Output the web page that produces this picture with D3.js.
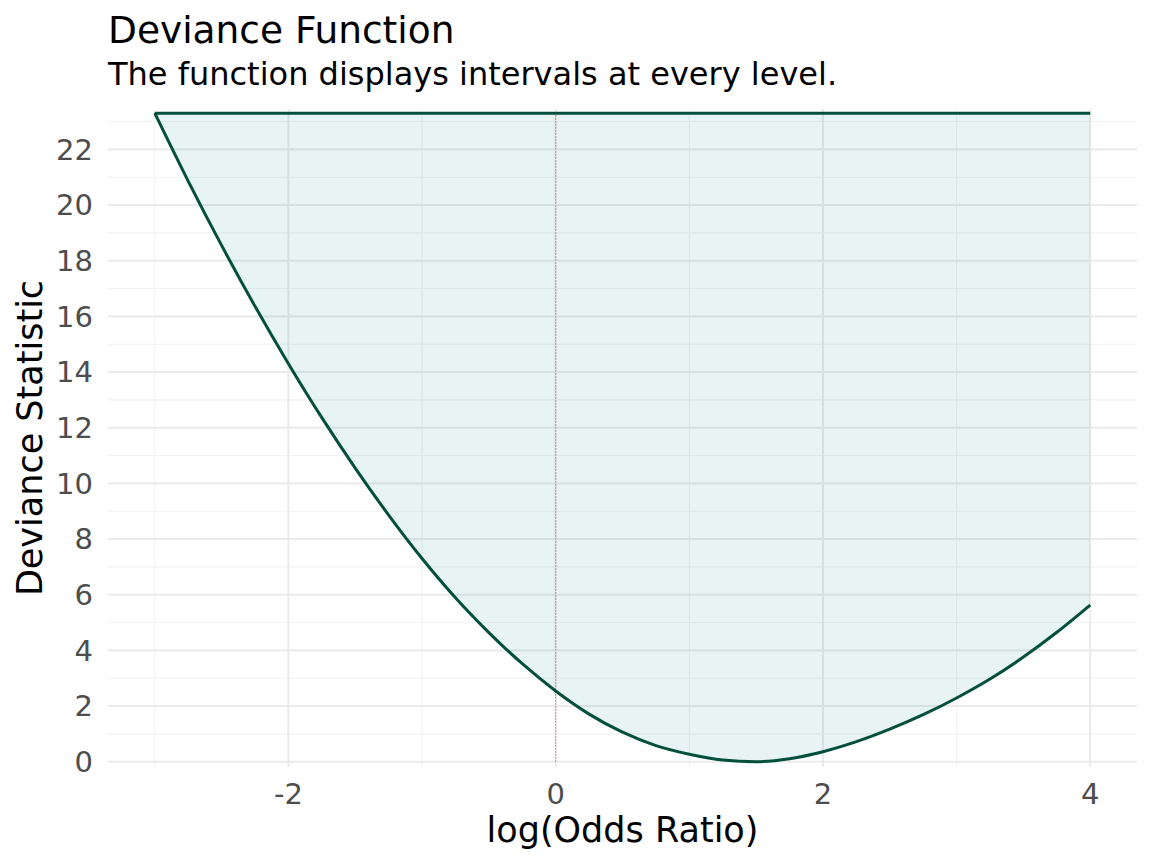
<!DOCTYPE html>
<html lang="en">
<head>
<meta charset="UTF-8">
<title>Deviance Function</title>
<script src="https://d3js.org/d3.v7.min.js"></script>
<style>
  body { margin: 0; background: #fff; }
  text { font-family: "DejaVu Sans", sans-serif; }
</style>
</head>
<body>
<script>
  // log odds ratio grid and the deviance
  const logOR = [-3, -2.75, -2.5, -2.25, -2, -1.75, -1.5, -1.25, -1, -0.75, -0.5, -0.25,
                 0, 0.25, 0.5, 0.75, 1, 1.25, 1.5, 1.75, 2, 2.25, 2.5, 2.75, 3, 3.25, 3.5, 3.75, 4]
  const deviance = [23.3, 20.86, 18.55, 16.36, 14.3, 12.36, 10.55, 8.86, 7.3, 5.89, 4.64, 3.52,
                    2.54, 1.71, 1.06, 0.58, 0.27, 0.06, 0.0, 0.11, 0.36, 0.72, 1.17, 1.69, 2.29, 2.97, 3.76, 4.65, 5.63]
  const xTicks = [-2, 0, 2, 4]
  const xMinor = [-3, -1, 1, 3]
  const yTicks = [0, 2, 4, 6, 8, 10, 12, 14, 16, 18, 20, 22]
  const yMinor = [1, 3, 5, 7, 9, 11, 13, 15, 17, 19, 21, 23]
  const nullValue = 0

  const W = 1152, H = 864
  const panel = {left: 108, right: 1137, top: 109, bottom: 767}

  const data = logOR.map((x, i) => ({x: x, y: deviance[i]}))
  const yMax = d3.max(deviance)

  const x = d3.scaleLinear().domain([-3.35, 4.35]).range([panel.left, panel.right])
  const y = d3.scaleLinear().domain([-0.19, 23.45]).range([panel.bottom, panel.top])

  const svg = d3.select("body").append("svg")
    .attr("width", W).attr("height", H)

  // grid
  const grid = svg.append("g")
  grid.selectAll(".ymin").data(yMinor).enter().append("line")
    .attr("x1", panel.left).attr("x2", panel.right)
    .attr("y1", d => y(d)).attr("y2", d => y(d))
    .attr("stroke", "#f2f2f2").attr("stroke-width", 1.1)
  grid.selectAll(".xmin").data(xMinor).enter().append("line")
    .attr("y1", panel.top).attr("y2", panel.bottom)
    .attr("x1", d => x(d)).attr("x2", d => x(d))
    .attr("stroke", "#f2f2f2").attr("stroke-width", 1.1)
  grid.selectAll(".ymaj").data(yTicks).enter().append("line")
    .attr("x1", panel.left).attr("x2", panel.right)
    .attr("y1", d => y(d)).attr("y2", d => y(d))
    .attr("stroke", "#ebebeb").attr("stroke-width", 2.1)
  grid.selectAll(".xmaj").data(xTicks).enter().append("line")
    .attr("y1", panel.top).attr("y2", panel.bottom)
    .attr("x1", d => x(d)).attr("x2", d => x(d))
    .attr("stroke", "#ebebeb").attr("stroke-width", 2.1)

  // shaded region between curve and max
  const area = d3.area().x(d => x(d.x)).y0(y(yMax)).y1(d => y(d.y)).curve(d3.curveMonotoneX)
  svg.append("path").datum(data)
    .attr("d", area)
    .attr("fill", "#008080").attr("fill-opacity", 0.09)

  // null reference line
  svg.append("line")
    .attr("x1", x(nullValue)).attr("x2", x(nullValue))
    .attr("y1", y(0)).attr("y2", y(yMax))
    .attr("stroke", "#e07070").attr("stroke-width", 1)
    .attr("stroke-dasharray", "1.5,1.5")

  const line = d3.line().x(d => x(d.x)).y(d => y(d.y)).curve(d3.curveMonotoneX)
  svg.append("path").datum(data)
    .attr("d", line)
    .attr("fill", "none").attr("stroke", "#024f3b").attr("stroke-width", 3)
  svg.append("line")
    .attr("x1", x(logOR[0])).attr("x2", x(logOR[logOR.length - 1]))
    .attr("y1", y(yMax)).attr("y2", y(yMax))
    .attr("stroke", "#024f3b").attr("stroke-width", 3)

  // axes text
  svg.selectAll(".xt").data(xTicks).enter().append("text")
    .attr("x", d => x(d)).attr("y", 804)
    .attr("text-anchor", "middle").attr("font-size", 29).attr("fill", "#4d4d4d")
    .text(d => d)
  svg.selectAll(".yt").data(yTicks).enter().append("text")
    .attr("x", 93).attr("y", d => y(d)).attr("dy", "0.36em")
    .attr("text-anchor", "end").attr("font-size", 29).attr("fill", "#4d4d4d")
    .text(d => d)

  svg.append("text")
    .attr("x", (panel.left + panel.right) / 2).attr("y", 842)
    .attr("text-anchor", "middle").attr("font-size", 35).attr("fill", "#000")
    .text("log(Odds Ratio)")
  svg.append("text")
    .attr("transform", "translate(42," + (panel.top + panel.bottom) / 2 + ") rotate(-90)")
    .attr("text-anchor", "middle").attr("font-size", 35).attr("fill", "#000")
    .text("Deviance Statistic")

  svg.append("text")
    .attr("x", 108).attr("y", 43).attr("font-size", 37.5).attr("fill", "#000")
    .text("Deviance Function")
  svg.append("text")
    .attr("x", 108).attr("y", 85).attr("font-size", 32).attr("fill", "#000")
    .text("The function displays intervals at every level.")
</script>
</body>
</html>
